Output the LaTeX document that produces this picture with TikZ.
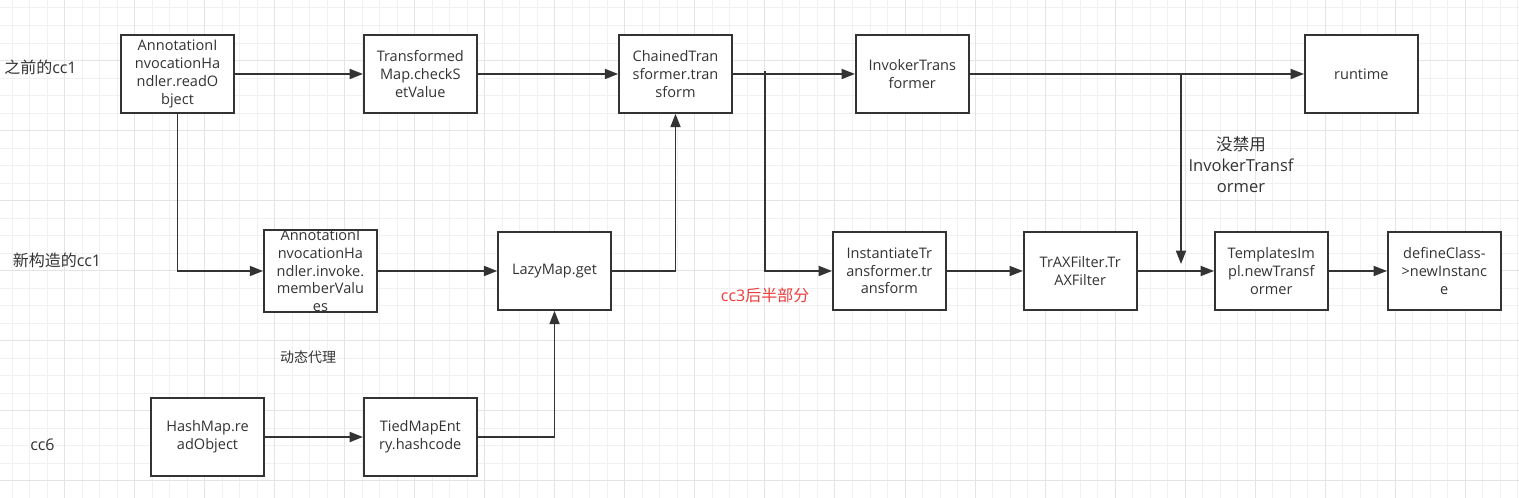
\documentclass[tikz,border=0pt]{standalone}
\usepackage{fontspec}
\setmainfont{Open Sans}
\newfontfamily\cjk{Noto Sans CJK SC}
\usetikzlibrary{arrows.meta}
\definecolor{ink}{HTML}{333333}
\definecolor{gridminor}{HTML}{F1F1F1}
\definecolor{gridmajor}{HTML}{E4E4E4}
\definecolor{redlbl}{HTML}{EE3B3B}
\tikzset{
  px/.style={x=0.75pt,y=-0.75pt},
  box/.style={draw=ink, line width=1.2pt, fill=white, minimum width=84.75pt, minimum height=58.5pt,
    inner sep=0pt, align=center, text=ink, font=\fontsize{10.9}{13.3}\selectfont},
  arr/.style={draw=ink, line width=1.3pt, -{Triangle[length=10pt,width=7.5pt]}},
  lbl/.style={text=ink, inner sep=0pt, font=\fontsize{12}{15}\selectfont},
}
\begin{document}
\begin{tikzpicture}[px]
\useasboundingbox (0,0) rectangle (1519,498);
\fill[white] (0,0) rectangle (1519,498);
% grid
\foreach \i in {0,...,86} \draw[gridminor, line width=0.75pt] ({12+17.51*\i},0) -- ({12+17.51*\i},498);
\foreach \j in {0,...,27} \draw[gridminor, line width=0.75pt] (0,{8+17.51*\j}) -- (1519,{8+17.51*\j});
\foreach \i in {3,7,...,83} \draw[gridmajor, line width=0.75pt] ({12+17.51*\i},0) -- ({12+17.51*\i},498);
\foreach \j in {3,7,...,27} \draw[gridmajor, line width=0.75pt] (0,{8+17.51*\j}) -- (1519,{8+17.51*\j});

% row 1
\node[box] (b1) at (177.5,74) {AnnotationI\\nvocationHa\\ndler.readO\\bject};
\node[box] (b2) at (420.3,74) {Transformed\\Map.checkS\\etValue};
\node[box] (b3) at (675.5,74) {ChainedTran\\sformer.tran\\sform};
\node[box] (b4) at (912.3,74) {InvokerTrans\\former};
\node[box] (b5) at (1361.3,74) {runtime};
% row 2
\node[box] (r1) at (320.4,271) {AnnotationI\\nvocationHa\\ndler.invoke.\\memberValu\\es};
\node[box] (lazy) at (554.5,271) {LazyMap.get};
\node[box] (inst) at (889.3,271) {InstantiateTr\\ansformer.tr\\ansform};
\node[box] (trax) at (1080.2,271) {TrAXFilter.Tr\\AXFilter};
\node[box] (tmpl) at (1271.3,271) {TemplatesIm\\pl.newTransf\\ormer};
\node[box] (defc) at (1444.3,271) {defineClass-\\>newInstanc\\e};
% row 3
\node[box] (hm) at (207.5,437) {HashMap.re\\adObject};
\node[box] (tme) at (420.3,437) {TiedMapEnt\\ry.hashcode};

% labels
\node[lbl, anchor=west] (l1) at (4,67) {{\cjk 之前的}cc1};
\node[lbl, anchor=west] (l2) at (12.5,260.5) {{\cjk 新构造的}cc1};
\node[lbl, anchor=west] (l3) at (30,445) {cc6};
\node[lbl, font=\fontsize{10.5}{13}\selectfont] (l4) at (308,357) {\cjk 动态代理};
\node[lbl, anchor=west, text=redlbl] (l5) at (720.7,295) {cc3{\cjk 后半部分}};
\node[lbl, align=center, font=\fontsize{12.4}{15.75}\selectfont] (l6) at (1241,165) {{\cjk 没禁用}\\InvokerTransf\\ormer};

% connectors
\coordinate (j1) at (765,71.5);
\coordinate (j2) at (1181,73);
\coordinate (j2e) at (1181,264);
\draw[arr] (b1) -- (b2);
\draw[arr] (b2) -- (b3);
\draw[arr] (b3) -- (b4);
\draw[arr] (b4) -- (b5);
\draw[arr] (j1) |- (inst.west);
\draw[arr] (j2) -- (j2e);
\draw[arr] (b1.south) |- (r1.west);
\draw[arr] (r1) -- (lazy);
\draw[arr] (lazy.east) -| (b3.south);
\draw[arr] (hm) -- (tme);
\draw[arr] (tme.east) -| (lazy.south);
\draw[arr] (inst) -- (trax);
\draw[arr] (trax) -- (tmpl);
\draw[arr] (tmpl) -- (defc);
\end{tikzpicture}
\end{document}
